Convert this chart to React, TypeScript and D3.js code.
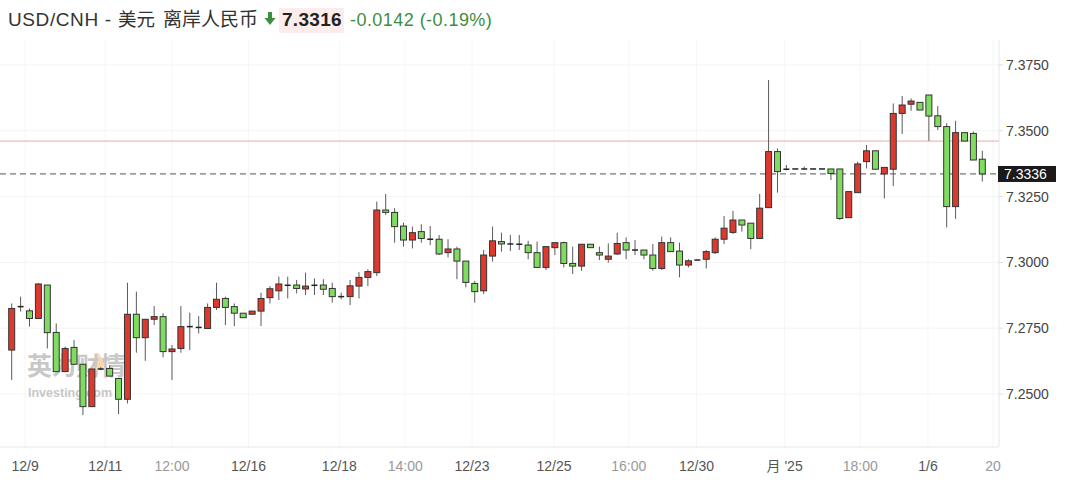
import React from 'react';
import * as d3 from 'd3';

const opens = [7.2667,7.2832,7.2816,7.2787,7.2914,7.2734,7.2585,7.2677,7.2613,7.2452,7.2595,7.2597,7.2559,7.2480,7.2803,7.2714,7.2784,7.2794,7.2661,7.2673,7.2756,7.2753,7.2749,7.2829,7.2863,7.2832,7.2807,7.2803,7.2815,7.2866,7.2892,7.2913,7.2914,7.2899,7.2913,7.2914,7.2901,7.2870,7.2870,7.2910,7.2943,7.2961,7.3199,7.3190,7.3138,7.3085,7.3117,7.3088,7.3088,7.3037,7.3051,7.3005,7.2920,7.2892,7.3024,7.3079,7.3070,7.3069,7.3066,7.3037,7.2981,7.3056,7.3075,7.2996,7.2986,7.3069,7.3037,7.3012,7.3032,7.3075,7.3047,7.3047,7.3028,7.2977,7.3075,7.3043,7.2990,7.3009,7.3012,7.3037,7.3088,7.3114,7.3161,7.3149,7.3091,7.3208,7.3421,7.3354,7.3355,7.3355,7.3355,7.3355,7.3355,7.3355,7.3170,7.3265,7.3383,7.3424,7.3336,7.3354,7.3566,7.3601,7.3608,7.3636,7.3557,7.3516,7.3212,7.3493,7.3490,7.3392];
const highs = [7.2844,7.2870,7.2825,7.2921,7.2914,7.2768,7.2680,7.2705,7.2613,7.2595,7.2602,7.2610,7.2559,7.2923,7.2889,7.2784,7.2834,7.2807,7.2686,7.2834,7.2809,7.2796,7.2844,7.2923,7.2870,7.2844,7.2807,7.2815,7.2885,7.2910,7.2946,7.2946,7.2933,7.2961,7.2939,7.2936,7.2923,7.2885,7.2933,7.2963,7.2974,7.3231,7.3260,7.3206,7.3151,7.3136,7.3145,7.3138,7.3104,7.3088,7.3060,7.3005,7.2930,7.3047,7.3136,7.3113,7.3104,7.3104,7.3082,7.3079,7.3062,7.3075,7.3079,7.3060,7.3069,7.3069,7.3060,7.3072,7.3113,7.3095,7.3085,7.3047,7.3070,7.3098,7.3095,7.3075,7.3012,7.3009,7.3047,7.3095,7.3176,7.3196,7.3161,7.3149,7.3260,7.3693,7.3433,7.3370,7.3355,7.3364,7.3355,7.3355,7.3355,7.3355,7.3269,7.3383,7.3446,7.3424,7.3361,7.3604,7.3632,7.3623,7.3608,7.3636,7.3594,7.3529,7.3538,7.3493,7.3497,7.3424];
const lows = [7.2553,7.2813,7.2756,7.2787,7.2673,7.2585,7.2585,7.2613,7.2420,7.2452,7.2590,7.2568,7.2424,7.2464,7.2657,7.2626,7.2762,7.2639,7.2553,7.2657,7.2667,7.2730,7.2749,7.2819,7.2762,7.2758,7.2790,7.2803,7.2758,7.2844,7.2857,7.2863,7.2882,7.2876,7.2876,7.2876,7.2847,7.2860,7.2838,7.2863,7.2910,7.2948,7.3180,7.3075,7.3060,7.3053,7.3075,7.3066,7.3028,7.3019,7.2936,7.2905,7.2847,7.2880,7.3003,7.3041,7.3043,7.3047,7.3012,7.2981,7.2971,7.3028,7.2981,7.2956,7.2968,7.3056,7.3009,7.2999,7.3028,7.3012,7.3028,7.3012,7.2968,7.2971,7.3041,7.2943,7.2981,7.3009,7.2977,7.3032,7.3070,7.3108,7.3117,7.3050,7.3091,7.3208,7.3265,7.3350,7.3355,7.3355,7.3355,7.3355,7.3313,7.3161,7.3170,7.3265,7.3357,7.3354,7.3243,7.3290,7.3488,7.3576,7.3579,7.3462,7.3503,7.3133,7.3165,7.3461,7.3389,7.3307];
const closes = [7.2825,7.2832,7.2787,7.2918,7.2733,7.2585,7.2673,7.2613,7.2452,7.2595,7.2595,7.2568,7.2480,7.2803,7.2714,7.2784,7.2794,7.2661,7.2671,7.2756,7.2756,7.2753,7.2829,7.2860,7.2829,7.2807,7.2790,7.2815,7.2863,7.2900,7.2918,7.2913,7.2901,7.2910,7.2913,7.2898,7.2870,7.2870,7.2911,7.2943,7.2965,7.3199,7.3190,7.3136,7.3085,7.3113,7.3091,7.3088,7.3032,7.3051,7.3005,7.2924,7.2889,7.3028,7.3082,7.3070,7.3070,7.3069,7.3037,7.2981,7.3060,7.3075,7.2996,7.2986,7.3069,7.3056,7.3028,7.3024,7.3072,7.3047,7.3047,7.3028,7.2977,7.3075,7.3041,7.2990,7.3006,7.3009,7.3041,7.3088,7.3130,7.3161,7.3142,7.3091,7.3206,7.3421,7.3345,7.3354,7.3355,7.3355,7.3355,7.3355,7.3338,7.3167,7.3269,7.3374,7.3424,7.3354,7.3361,7.3566,7.3598,7.3613,7.3579,7.3556,7.3516,7.3212,7.3493,7.3461,7.3389,7.3336];

const yTicks = [7.25, 7.275, 7.3, 7.325, 7.35, 7.375];
const xTickPos = [1.5, 10.5, 18, 26.6, 36.8, 44.2, 51.7, 60.9, 69.3, 76.9, 86.8, 95.3, 102.9, 110.2];
const xTickLabels = ['12/9', '12/11', '12:00', '12/16', '12/18', '14:00', '12/23', '12/25', '16:00', '12/30', "月 '25", '18:00', '1/6', '20'];
const lastPrice = 7.3336;
const refLine = 7.3461;

const W = 1080, H = 502;
const plotRight = 999, plotTop = 40, plotBottom = 447;
const UP = '#dc3a2e', DOWN = '#80dc60';
const FONT = '"Liberation Sans", Arial, "Noto Sans CJK SC", sans-serif';

export default function App() {
  const n = opens.length;
  const x = d3.scaleLinear().domain([0, n - 1]).range([11.7, 982.3]);
  const y = d3.scaleLinear().domain([7.25, 7.375]).range([394, 65]);
  const bw = 6;

  return (
    <svg width={W} height={H} style={{ position: 'absolute', left: 0, top: 0, background: '#fff', fontFamily: FONT }}>
      {/* title */}
      <text x={8} y={26} fontSize={19} fill="#333" letterSpacing={0.6}>USD/CNH -</text>
      <text x={118} y={26} fontSize={18.5} fill="#333">美元</text>
      <text x={163} y={26} fontSize={19} fill="#333">离岸人民币</text>
      <path d="M268,12 h4 v6 h3.5 l-5.5,7 l-5.5,-7 h3.5 z" fill="#3c8f3f" />
      <rect x={279} y={8} width={65} height={25} fill="#fcecec" />
      <text x={282} y={26} fontSize={19} fontWeight="bold" fill="#222" letterSpacing={0.3}>7.3316</text>
      <text x={350} y={26} fontSize={18} fill="#3c8f3f" letterSpacing={0.45}>-0.0142 (-0.19%)</text>

      {/* grid */}
      {yTicks.map((t) => (
        <line key={'g' + t} x1={0} x2={plotRight} y1={y(t)} y2={y(t)} stroke="#f3f3f3" />
      ))}
      {xTickPos.map((p, i) => (
        <line key={'vg' + i} x1={x(p)} x2={x(p)} y1={plotTop} y2={plotBottom} stroke="#f6f6f6" />
      ))}

      {/* watermark */}
      <g opacity={0.4}>
        <text x={27} y={375} fontSize={25} fontWeight="bold" fill="#777" letterSpacing={-0.5}>英为财情</text>
        <text x={28} y={397} fontSize={12.5} fontWeight="bold" fill="#777">Investing.com</text>
        <path d="M95,370 q6,-10 2,-18 q8,6 6,18 z" fill="#f39c32" />
      </g>

      {/* frame */}
      <line x1={0} x2={plotRight} y1={plotBottom} y2={plotBottom} stroke="#e6e6e6" />
      <line x1={plotRight} x2={plotRight} y1={plotTop} y2={plotBottom} stroke="#e6e6e6" />

      {/* reference lines */}
      <line x1={0} x2={plotRight} y1={y(refLine)} y2={y(refLine)} stroke="#f2a79f" strokeWidth={1} />
      <line x1={0} x2={plotRight} y1={y(lastPrice)} y2={y(lastPrice)} stroke="#777" strokeWidth={1.2} strokeDasharray="6,4" />

      {/* candles */}
      {opens.map((o, i) => {
        const c = closes[i];
        const cx = x(i);
        const flat = o === c;
        const fill = flat ? '#222' : c > o ? UP : DOWN;
        const top = y(Math.max(o, c));
        const bot = y(Math.min(o, c));
        return (
          <g key={i}>
            <line x1={cx} x2={cx} y1={y(highs[i])} y2={y(lows[i])} stroke="#5a5a5a" strokeWidth={1} />
            {flat ? (
              <line x1={cx - bw / 2} x2={cx + bw / 2} y1={top} y2={top} stroke="#222" strokeWidth={1.5} />
            ) : (
              <rect x={cx - bw / 2} y={top} width={bw} height={Math.max(bot - top, 1)} fill={fill} stroke="#333" strokeWidth={1} />
            )}
          </g>
        );
      })}

      {/* y axis labels */}
      {yTicks.map((t) => (
        <g key={'yt' + t}>
          <line x1={plotRight} x2={plotRight + 4} y1={y(t)} y2={y(t)} stroke="#ddd" />
          <text x={1006} y={y(t)} dy="0.35em" fontSize={14} fill="#444">{t.toFixed(4)}</text>
        </g>
      ))}
      <rect x={998} y={y(lastPrice) - 8} width={58} height={16} fill="#1a1a1a" />
      <text x={1004} y={y(lastPrice)} dy="0.36em" fontSize={14} fill="#fff">{lastPrice.toFixed(4)}</text>

      {/* x axis labels */}
      {xTickPos.map((p, i) => {
        const lab = xTickLabels[i];
        const isTime = lab.includes(':') || lab === '20';
        return (
          <text key={'xt' + i} x={x(p)} y={471} textAnchor="middle" fontSize={14} fill={isTime ? '#999' : '#555'}>{lab}</text>
        );
      })}
    </svg>
  );
}
